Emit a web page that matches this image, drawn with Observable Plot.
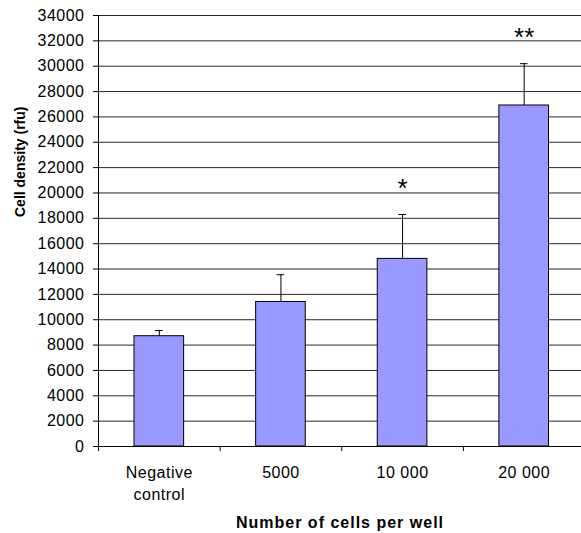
<!DOCTYPE html>
<html>
<head>
<meta charset="utf-8">
<script src="https://cdn.jsdelivr.net/npm/d3@7"></script>
<script src="https://cdn.jsdelivr.net/npm/@observablehq/plot@0.6"></script>
<style>
  body { margin: 0; background: #fff; }
  #chart svg { font-family: Arial, "Liberation Sans", sans-serif; }
</style>
</head>
<body>
<div id="chart"></div>
<script>
// ---- data ----
const categories = ["Negative control", "5000", "10 000", "20 000"];
const tickLabels = ["Negative\ncontrol", "5000", "10 000", "20 000"];
const values = [8700, 11400, 14800, 26900];
const errors = [450, 2150, 3500, 3300];
const significance = ["", "", "*", "**"];
const yTicks = [0, 2000, 4000, 6000, 8000, 10000, 12000, 14000, 16000, 18000,
                20000, 22000, 24000, 26000, 28000, 30000, 32000, 34000];
const xTitle = "Number of cells per well";
const yTitle = "Cell density (rfu)";

const data = categories.map((c, i) => ({
  category: c,
  label: tickLabels[i],
  index: i,
  value: values[i],
  top: values[i] + errors[i],
  mark: significance[i]
}));

const chart = Plot.plot({
  width: 581,
  height: 533,
  marginLeft: 98,
  marginRight: 0,
  marginTop: 15,
  marginBottom: 87,
  style: { fontFamily: "Arial, 'Liberation Sans', sans-serif", fontSize: "16px", background: "#fff", color: "#000" },
  x: { domain: [0, categories.length], range: [98, 584.5] },
  y: { domain: [0, 34000] },
  marks: [
    Plot.gridY(yTicks, { stroke: "#000", strokeOpacity: 0.85 }),
    Plot.rectY(data, {
      x1: "index", x2: d => d.index + 1, y: "value",
      fill: "#9999FF", stroke: "#000", strokeWidth: 1,
      insetLeft: 36, insetRight: 36
    }),
    Plot.ruleX(data, { x: d => d.index + 0.5, y1: "value", y2: "top", stroke: "#000" }),
    Plot.ruleY(data, { y: "top", x1: "index", x2: d => d.index + 1, insetLeft: 57, insetRight: 57, stroke: "#000" }),
    Plot.axisY({ ticks: yTicks, tickSize: 5, tickPadding: 9, tickFormat: d => String(d), fontSize: 16, label: null }),
    Plot.ruleX([0], { stroke: "#000" }),
    Plot.ruleY([0], { stroke: "#000" }),
    Plot.axisX({ ticks: d3.range(0, categories.length + 1), tickSize: 5, tickFormat: () => "", label: null }),
    Plot.text(data, {
      x: d => d.index + 0.5, y: () => 0, text: "label",
      lineAnchor: "top", dy: 16, lineHeight: 1.37, fontSize: 16, fill: "#000"
    }),
    Plot.text(data, {
      x: d => d.index + 0.5, y: "top", text: "mark",
      lineAnchor: "bottom", dy: -18, fontSize: 26, fill: "#000"
    }),
    Plot.text([yTitle], {
      frameAnchor: "left", rotate: -90, dx: -78, dy: -14,
      fontWeight: "bold", fontSize: 14, fill: "#000"
    }),
    Plot.text([xTitle], {
      frameAnchor: "bottom", lineAnchor: "bottom", dy: 81,
      fontWeight: "bold", fontSize: 16, fill: "#000"
    })
  ]
});

const svg = d3.select(chart);
svg.selectAll('g[aria-label="y-axis tick label"] text').style("letter-spacing", "0.5px");
svg.selectAll('g[aria-label="text"] text').each(function() {
  const t = d3.select(this).text();
  if (t === xTitle) d3.select(this).style("letter-spacing", "1px");
  else if (tickLabels.some(l => l.replace("\n", "") === t)) d3.select(this).style("letter-spacing", "0.5px");
});

document.getElementById("chart").appendChild(chart);
</script>
</body>
</html>
